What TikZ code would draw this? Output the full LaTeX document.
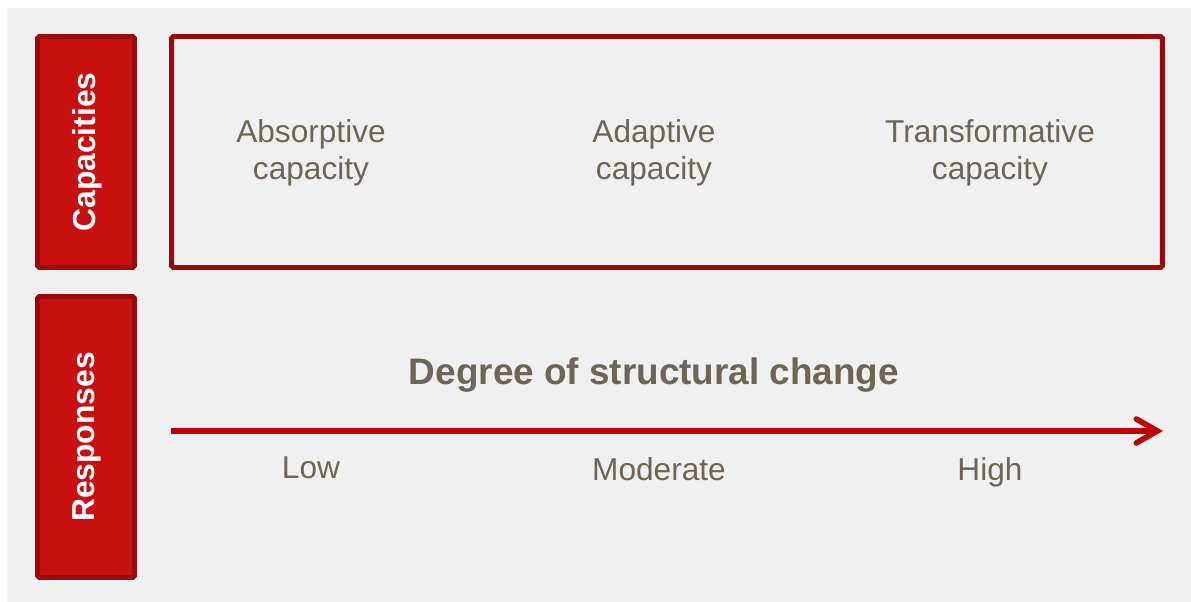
\documentclass[tikz,border=0pt]{standalone}
\usepackage{fontspec}
\setmainfont{Liberation Sans}
\usepackage{xcolor}
\usetikzlibrary{arrows.meta}
\definecolor{bgGray}{HTML}{F0F0F0}
\definecolor{boxRed}{HTML}{C81010}
\definecolor{edgeRed}{HTML}{990A0A}
\definecolor{arrowRed}{HTML}{C00000}
\definecolor{textBrown}{HTML}{6E6553}
\tikzset{
  sidebox/.style={draw=edgeRed, fill=boxRed, line width=2.8pt, rounded corners=1pt, minimum width=1.94cm},
  sidelabel/.style={text=white, rotate=90, font=\fontsize{18.1}{21}\selectfont\bfseries},
  framebox/.style={draw=edgeRed, line width=2.8pt, rounded corners=1pt},
  label/.style={text=textBrown, align=center, font=\fontsize{18}{21}\selectfont},
}
\begin{document}
\begin{tikzpicture}[x=0.02cm,y=-0.02cm]
				\useasboundingbox (0,0) rectangle (1191,602);
				\fill[white] (0,0) rectangle (1191,602);
				\fill[bgGray] (7,8) rectangle (1191,602);
				% left column
				\node[sidebox, minimum height=4.62cm](capbox) at (86,152){};
				\node[sidebox, minimum height=5.62cm](respbox) at (86,437){};
				\node[sidelabel](caplabel) at (87,152){Capacities};
				\node[sidelabel](resplabel) at (87,437){Responses};
				% capacities frame
				\node[framebox, minimum width=19.82cm, minimum height=4.62cm](capframe) at (667,152){};
				\node[label](absorb) at (311,152.5){Absorptive\\capacity};
				\node[label](adapt) at (654,152.5){Adaptive\\capacity};
				\node[label](transform) at (990,152.5){Transformative\\capacity};
				% responses
				\node[text=textBrown, font=\fontsize{21}{25}\selectfont\bfseries, anchor=base](degree) at (654,384){Degree of structural change};
				\coordinate(arrowstart) at (171,431);
				\coordinate(arrowend) at (1163,431);
				\draw[arrowRed, line width=3.2pt, -{Straight Barb[length=0.42cm, width=0.48cm, line cap=round]}] (arrowstart) -- (arrowend);
				\node[label, anchor=base](low) at (311,478){Low};
				\node[label, anchor=base](moderate) at (659,480){Moderate};
				\node[label, anchor=base](high) at (990,480){High};
			\end{tikzpicture}
\end{document}
